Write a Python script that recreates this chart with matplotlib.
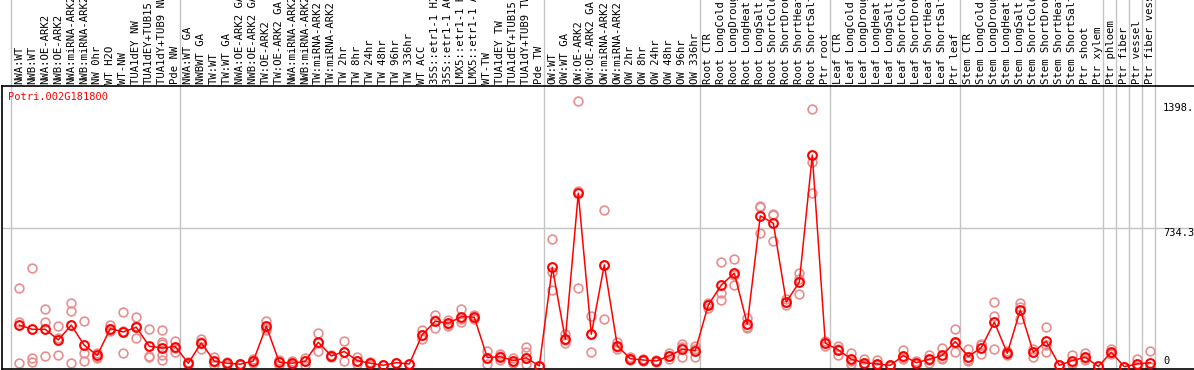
import numpy as np
import matplotlib
matplotlib.use('Agg')
import matplotlib.pyplot as plt

gene = 'Potri.002G181800'

samples = ['NWA:WT', 'NWB:WT', 'NWA:OE-ARK2', 'NWB:OE-ARK2', 'NWA:miRNA-ARK2', 'NWB:miRNA-ARK2',
           'NW 0hr', 'WT H2O', 'WT-NW', 'TUA1dEY NW', 'TUA1dEY+TUB15', 'TUA1dY+TUB9 NW', 'Pde NW',
           'NWA:WT GA', 'NWBWT GA', 'TW:WT', 'TW:WT GA', 'NWA:OE-ARK2 GA', 'NWB:OE-ARK2 GA',
           'TW:OE-ARK2', 'TW:OE-ARK2 GA', 'NWA:miRNA-ARK2', 'NWB:miRNA-ARK2', 'TW:miRNA-ARK2',
           'TW:miRNA-ARK2', 'TW 2hr', 'TW 8hr', 'TW 24hr', 'TW 48hr', 'TW 96hr', 'TW 336hr', 'WT ACC',
           '35S::etr1-1 H2O', '35S::etr1-1 ACC', 'LMX5::etr1-1 H2O', 'LMX5::etr1-1 ACC', 'WT-TW',
           'TUA1dEY TW', 'TUA1dEY+TUB15 TW', 'TUA1dY+TUB9 TW', 'Pde TW',
           'OW:WT', 'OW:WT GA', 'OW:OE-ARK2', 'OW:OE-ARK2 GA', 'OW:miRNA-ARK2', 'OW:miRNA-ARK2',
           'OW 2hr', 'OW 8hr', 'OW 24hr', 'OW 48hr', 'OW 96hr', 'OW 336hr',
           'Root CTR', 'Root LongCold', 'Root LongDrought', 'Root LongHeat', 'Root LongSalt',
           'Root ShortCold', 'Root ShortDrought', 'Root ShortHeat', 'Root ShortSalt', 'Ptr root',
           'Leaf CTR', 'Leaf LongCold', 'Leaf LongDrought', 'Leaf LongHeat', 'Leaf LongSalt',
           'Leaf ShortCold', 'Leaf ShortDrought', 'Leaf ShortHeat', 'Leaf ShortSalt', 'Ptr leaf',
           'Stem CTR', 'Stem LongCold', 'Stem LongDrought', 'Stem LongHeat', 'Stem LongSalt',
           'Stem ShortCold', 'Stem ShortDrought', 'Stem ShortHeat', 'Stem ShortSalt', 'Ptr shoot',
           'Ptr xylem', 'Ptr phloem', 'Ptr fiber', 'Ptr vessel', 'Ptr fiber vessel']

# first sample index of each group
group_starts = [0, 13, 41, 53, 63, 73, 84, 85, 86, 87, 88]

means = [220, 198, 198, 142, 220, 113, 60, 202, 184, 209, 108, 99, 106,
         18, 126, 29, 18, 13, 30, 214, 23, 18, 29, 129, 57, 80, 32, 18, 7, 21, 14, 170,
         241, 230, 265, 262, 48, 53, 32, 46, 4,
         527, 145, 920, 172, 540, 110, 42, 35, 30, 57, 92, 85,
         327, 433, 496, 225, 800, 761, 343, 448, 1122, 124,
         89, 39, 21, 14, 7, 58, 21, 39, 60, 133,
         53, 101, 236, 71, 301, 76, 135, 7, 32, 50, 1,
         76, 0, 14, 21]

reps = [[416, 239, 18], [522, 45, 27], [305, 236, 57], [214, 150, 61], [336, 294, 21],
        [241, 71, 29], [74, 53, 46], [221, 191, 200], [289, 71, 190], [262, 152, 213],
        [198, 58, 53], [195, 133, 120, 62, 35], [138, 80, 100],
        [25, 12, 18], [149, 96, 130], [53, 9, 25], [27, 9, 18], [13, 10, 15], [40, 20, 30],
        [241, 195, 206], [35, 9, 25], [28, 10, 16], [45, 9, 32], [177, 83, 127], [62, 52, 57],
        [136, 29, 75], [53, 13, 30], [27, 9, 18], [7, 7], [21], [14], [195, 147, 168],
        [274, 203, 246], [248, 216, 226], [304, 239, 252], [273, 260, 253], [83, 14, 47],
        [66, 35, 58], [44, 20, 32], [106, 80, 14, 46], [4],
        [676, 504, 407], [172, 124, 139], [1410, 416, 934], [269, 76, 171], [831, 251, 538],
        [133, 92, 105], [42, 50, 35], [42, 28, 35], [36, 22, 30], [74, 39, 58], [119, 53, 104],
        [110, 53, 92],
        [340, 310, 331], [557, 389, 354], [570, 434, 485], [260, 204, 211], [853, 846, 711],
        [809, 667, 807], [358, 327, 344], [496, 384, 464], [1366, 1088, 923], [137, 112, 123],
        [110, 62, 95], [71, 14, 32], [39, 9, 15], [35, 0, 7], [7, 5], [89, 39, 46], [30, 12, 21],
        [62, 35, 20], [98, 39, 44], [198, 76, 125],
        [92, 35, 32], [115, 66, 122], [342, 269, 92], [85, 62, 66], [336, 251, 316],
        [80, 53, 95], [212, 76, 117], [7], [62, 14, 20], [71, 35, 44], [1],
        [92, 70, 66], [0], [39, 5], [83, 0, 0]]

y_labels = [1398, 734.3, 0]

W, H = 1194, 370
fig = plt.figure(figsize=(W / 100, H / 100), dpi=100)
left, right, top, bottom = 1.5, 1194, 86, 368.5
ax = fig.add_axes([left / W, (H - bottom) / H, (right - left) / W, (bottom - top) / H])

x = np.arange(len(means))
step = 13.0
x0 = 19.3
ax.set_xlim((left - x0) / step, (right - x0) / step)
ax.set_ylim(-10, 1489)

mono = 'DejaVu Sans Mono'

# group separators, running up through the label strip
ext = 1 + top / (bottom - top)
for g in group_starts:
    ax.axvline(g - 0.66, ymin=0, ymax=ext, color='#c4c4c4', lw=1.0, clip_on=False, zorder=1)

ax.axhline(734.3, color='#c4c4c4', lw=1.0, zorder=1)

# replicate points
for i, r in enumerate(reps):
    ax.plot([i] * len(r), r, 'o', ms=6.3, mfc='none', mec='#e88e8e', mew=1.2, zorder=2)

ax.plot(x, means, '-', color='red', lw=1.1, zorder=3)
ax.plot(x, means, 'o', ms=6.3, mfc='none', mec='red', mew=1.5, zorder=4)

# sample names
ytxt = 1 + 2.5 / (bottom - top)
for i, s in enumerate(samples):
    ax.text(i, ytxt, s, rotation=90, ha='center', va='bottom', fontsize=7.7,
            family=mono, transform=ax.get_xaxis_transform(), clip_on=False)

ax.text(6.5 / (right - left), 1 - 5.5 / (bottom - top), gene, color='red', fontsize=7.5,
        family=mono, ha='left', va='top', transform=ax.transAxes)

yt = ax.get_yaxis_transform()
xl = (1163 - left) / (right - left)
ax.text(xl, y_labels[0], '%g.' % y_labels[0], fontsize=7.5, family=mono, ha='left', va='top', transform=yt)
ax.text(xl, y_labels[1], '%g' % y_labels[1], fontsize=7.5, family=mono, ha='left', va='top', transform=yt)
ax.text(xl, y_labels[2] + 4, '%g' % y_labels[2], fontsize=7.5, family=mono, ha='left', va='bottom', transform=yt)

ax.set_xticks([])
ax.set_yticks([])
ax.spines['right'].set_visible(False)
for sp in ['left', 'top', 'bottom']:
    ax.spines[sp].set_linewidth(1.2)
    ax.spines[sp].set_color('black')

fig.savefig('out.png', dpi=100)
